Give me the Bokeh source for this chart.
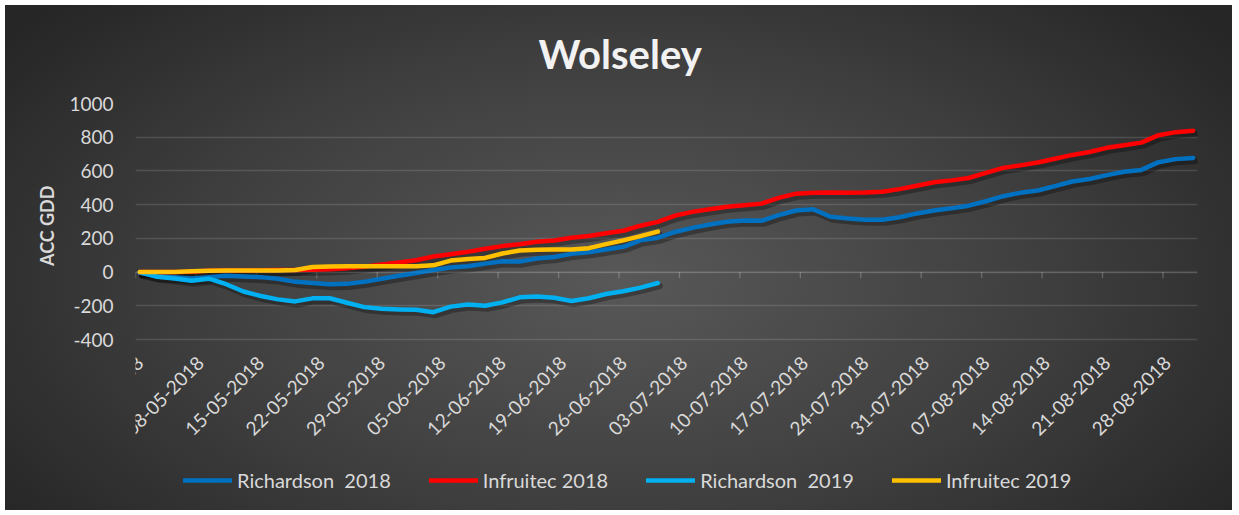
import math
import pandas as pd
from bokeh.plotting import figure
from bokeh.models import Range1d, FixedTicker, Legend, LegendItem, Span, Title
from bokeh.core.properties import value
from bokeh.embed import file_html
from bokeh.resources import INLINE

# ---------------- data ----------------
start = pd.Timestamp("2018-05-01")
dates_2018 = pd.date_range("2018-05-01", "2018-08-31", freq="2D")
dates_2019 = pd.date_range("2018-05-01", "2018-06-30", freq="2D")

richardson_2018 = [-5, -25, -30, -38, -30, -22, -26, -30, -40, -58, -65, -72, -70, -58, -40, -22,
                   -6, 12, 27, 34, 50, 64, 62, 81, 89, 108, 117, 134, 150, 188, 204, 238,
                   262, 282, 298, 306, 304, 338, 365, 372, 328, 318, 310, 310, 325, 348, 365, 378,
                   394, 420, 450, 470, 484, 510, 537, 552, 575, 595, 606, 652, 670, 677]
infruitec_2018 = [0, 0, 0, 2, 8, 10, 10, 11, 12, 13, 14, 17, 22, 32, 45, 57,
                  70, 92, 106, 120, 138, 154, 165, 180, 187, 204, 214, 230, 245, 275, 298, 335,
                  357, 373, 388, 397, 406, 440, 465, 470, 472, 471, 472, 477, 492, 512, 533, 544,
                  558, 588, 618, 633, 650, 672, 695, 712, 737, 752, 768, 812, 830, 839]
richardson_2019 = [0, -28, -38, -52, -39, -72, -115, -142, -162, -174, -156, -155, -182, -208, -218, -222,
                   -224, -238, -205, -192, -200, -180, -150, -145, -152, -172, -155, -130, -114, -92, -65]
infruitec_2019 = [0, 0, 0, 5, 8, 9, 9, 10, 10, 12, 30, 33, 34, 34, 34, 35,
                  35, 40, 68, 78, 84, 110, 128, 133, 134, 134, 142, 166, 188, 213, 240]

tick_labels = ["01-05-2018", "08-05-2018", "15-05-2018", "22-05-2018", "29-05-2018", "05-06-2018",
               "12-06-2018", "19-06-2018", "26-06-2018", "03-07-2018", "10-07-2018", "17-07-2018",
               "24-07-2018", "31-07-2018", "07-08-2018", "14-08-2018", "21-08-2018", "28-08-2018"]
y_ticks = [-400, -200, 0, 200, 400, 600, 800, 1000]

series = [
    ("Richardson  2018", dates_2018, richardson_2018, "#0070C0"),
    ("Infruitec 2018", dates_2018, infruitec_2018, "#FF0000"),
    ("Richardson  2019", dates_2019, richardson_2019, "#00B0F0"),
    ("Infruitec 2019", dates_2019, infruitec_2019, "#FFC000"),
]

FONT = "Lato"
TXT = "#D9D9D9"
TICK_LEN = 36  # week tick marks below the zero line (axis units, ~6px)

def xpos(dates):
    return [(d - start).days + 0.5 for d in dates]

label_pos = [(pd.to_datetime(t, format="%d-%m-%Y") - start).days + 0.5 for t in tick_labels]
week_edges = [lp - 0.5 for lp in label_pos]
n_days = (pd.Timestamp("2018-09-01") - start).days

# value axis: -400..1000 occupies the upper 236px of the 407px frame;
# the lower part of the frame holds the date labels and the legend
Y_MIN, Y_MAX = -400, 1000
PLOT_PX, FRAME_PX = 236, 407
y_bottom = Y_MAX - (Y_MAX - Y_MIN) * FRAME_PX / PLOT_PX

p = figure(frame_width=1062, frame_height=FRAME_PX,
           x_range=Range1d(0, n_days), y_range=Range1d(y_bottom, Y_MAX),
           output_backend="svg", toolbar_location=None,
           min_border_left=130, min_border_right=35, min_border_top=103, min_border_bottom=0,
           background_fill_alpha=0, border_fill_alpha=0, outline_line_color=None,
           x_axis_location=None)
p.styles = {"background": "linear-gradient(#ffffff, #ffffff) top left / 100% 5px no-repeat, "
                          "radial-gradient(ellipse 62% 80% at 50% 55%, #585858 0%, #3f3f3f 55%, #262626 100%)",
            "margin": "0 0 0 5px"}

p.title.text = "Wolseley"
p.title.align = "left"
p.title.offset = 403
p.title.text_font = FONT
p.title.text_font_style = "bold"
p.title.text_font_size = "40px"
p.title.text_color = "#F2F2F2"
p.title.standoff = 52

p.yaxis.ticker = FixedTicker(ticks=y_ticks)
p.yaxis.major_label_overrides = {t: str(t) for t in y_ticks}
p.yaxis.axis_line_color = None
p.yaxis.major_tick_line_color = None
p.yaxis.major_tick_out = 0
p.yaxis.major_tick_in = 0
p.yaxis.minor_tick_line_color = None
p.yaxis.major_label_text_font = FONT
p.yaxis.major_label_text_font_size = "19px"
p.yaxis.major_label_text_color = TXT
p.yaxis.major_label_standoff = 22

# y-axis title, aligned with the value part of the frame
ylab = Title(text="ACC GDD", align="right", offset=82, standoff=18,
             text_font=FONT, text_font_style="bold", text_font_size="18px", text_color=TXT)
p.add_layout(ylab, "left")

p.ygrid.grid_line_color = "#FFFFFF"
p.ygrid.grid_line_alpha = 0.13
p.ygrid.grid_line_width = 1.3
p.xgrid.visible = False

# horizontal axis line at 0 with week tick marks
p.add_layout(Span(location=0, dimension="width", line_color="#FFFFFF", line_alpha=0.12, line_width=1.3))
p.segment(x0=week_edges, y0=[0] * len(week_edges), x1=week_edges, y1=[-TICK_LEN] * len(week_edges),
          line_color="#FFFFFF", line_alpha=0.22, line_width=1.3)

# date labels under the value area
p.text(x=label_pos, y=[Y_MIN] * len(label_pos), text=tick_labels, angle=math.pi / 4,
       text_align="right", text_baseline="middle", y_offset=20,
       text_font=value(FONT), text_font_size="19px", text_color=TXT)

# drop shadow under the lines (same data on a slightly shifted range)
p.extra_x_ranges = {"shadow": Range1d(-0.25, n_days - 0.25)}
p.extra_y_ranges = {"shadow": Range1d(y_bottom + 18, Y_MAX + 18)}
for name, dts, vals, col in series:
    p.line(xpos(dts), vals, line_color="#000000", line_alpha=0.3, line_width=6,
           x_range_name="shadow", y_range_name="shadow", line_join="round", line_cap="round")

items = []
for name, dts, vals, col in series:
    r = p.line(xpos(dts), vals, line_color=col, line_width=4.5, line_join="round", line_cap="round")
    items.append(LegendItem(label=name, renderers=[r]))

legend = Legend(items=items, orientation="horizontal", location=(48, 18))
legend.label_text_font = FONT
legend.label_text_font_size = "20px"
legend.label_text_color = TXT
legend.glyph_width = 49
legend.label_standoff = 5
legend.spacing = 38
legend.padding = 0
legend.background_fill_alpha = 0
legend.border_line_alpha = 0
legend.margin = 0
p.add_layout(legend, "center")

open("out.html", "w").write(file_html(p, INLINE))
